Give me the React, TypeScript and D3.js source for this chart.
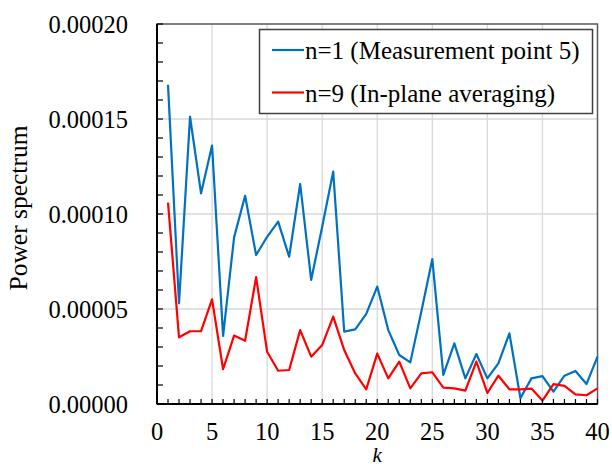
import React from "react";
import * as d3 from "d3";

// Spectrum index k
const kValues: number[] = d3.range(1, 41);

// n=1 (Measurement point 5), power spectrum values
const seriesSingle: number[] = [
  0.000168, 0.000053, 0.0001512, 0.0001109, 0.000136, 0.0000358, 0.0000877, 0.0001096, 0.0000784, 0.000088,
  0.000096, 0.0000775, 0.0001158, 0.0000653, 0.0000933, 0.0001223, 0.0000381, 0.0000393, 0.0000474, 0.0000618,
  0.0000389, 0.0000258, 0.0000219, 0.0000486, 0.0000763, 0.0000153, 0.0000319, 0.0000135, 0.0000263, 0.0000135,
  0.0000214, 0.0000372, 0.000003, 0.0000135, 0.0000147, 0.0000065, 0.0000149, 0.0000174, 0.0000105, 0.0000249,
];

// n=9 (In-plane averaging), power spectrum values
const seriesAveraged: number[] = [
  0.000106, 0.0000351, 0.0000383, 0.0000383, 0.0000551, 0.0000183, 0.000036, 0.0000333, 0.0000668, 0.0000275,
  0.0000175, 0.0000179, 0.0000389, 0.0000249, 0.000031, 0.000046, 0.0000284, 0.0000161, 0.0000077, 0.0000265,
  0.0000135, 0.0000223, 0.0000082, 0.0000161, 0.0000167, 0.0000086, 0.0000082, 0.000007, 0.0000223, 0.0000058,
  0.0000149, 0.0000077, 0.0000077, 0.0000081, 0.0000018, 0.0000105, 0.0000095, 0.0000051, 0.0000046, 0.0000082,
];

const seriesNames: string[] = ["n=1 (Measurement point 5)", "n=9 (In-plane averaging)"];
const seriesColors: string[] = ["#0070C0", "#FF0000"];

const xMajorTicks: number[] = [0, 5, 10, 15, 20, 25, 30, 35, 40];
const yMajorTicks: number[] = [0, 0.00005, 0.0001, 0.00015, 0.0002];

const W = 612;
const H = 464;
const plot = { left: 157, top: 24, right: 597.5, bottom: 404 };
const FONT = '"Liberation Serif", "DejaVu Serif", serif';

export default function App() {
  const x = d3.scaleLinear().domain([0, 40]).range([plot.left, plot.right]);
  const y = d3.scaleLinear().domain([0, 0.0002]).range([plot.bottom, plot.top]);

  const line = d3
    .line<[number, number]>()
    .x((d) => x(d[0]))
    .y((d) => y(d[1]));

  const series = [seriesSingle, seriesAveraged].map((vals) =>
    kValues.map((k, i) => [k, vals[i]] as [number, number])
  );

  const xMinor = d3.range(0, 41, 1);
  const yMinor = d3.range(0, 0.0002 + 1e-9, 0.00001);
  const txt = { fontFamily: FONT };

  return (
    <svg
      width={W}
      height={H}
      style={{ position: "absolute", left: 0, top: 0, background: "#fff", fontFamily: FONT }}
    >
      {/* grid */}
      {xMajorTicks.slice(1, -1).map((t) => (
        <line key={"gx" + t} x1={x(t)} x2={x(t)} y1={plot.top} y2={plot.bottom} stroke="#d9d9d9" strokeWidth={1.3} />
      ))}
      {yMajorTicks.slice(1, -1).map((t) => (
        <line key={"gy" + t} x1={plot.left} x2={plot.right} y1={y(t)} y2={y(t)} stroke="#d9d9d9" strokeWidth={1.3} />
      ))}

      {/* plot frame */}
      <rect
        x={plot.left}
        y={plot.top}
        width={plot.right - plot.left}
        height={plot.bottom - plot.top}
        fill="none"
        stroke="#595959"
        strokeWidth={1.5}
      />

      {/* series */}
      {series.map((pts, i) => (
        <path key={"s" + i} d={line(pts) ?? ""} fill="none" stroke={seriesColors[i]} strokeWidth={2.2} strokeLinejoin="round" />
      ))}

      {/* axes */}
      <line x1={plot.left} x2={plot.left} y1={plot.top} y2={plot.bottom} stroke="#000" strokeWidth={2} />
      <line x1={plot.left} x2={plot.right} y1={plot.bottom} y2={plot.bottom} stroke="#000" strokeWidth={2} />
      {xMinor.map((t) => (
        <line key={"tx" + t} x1={x(t)} x2={x(t)} y1={plot.bottom} y2={plot.bottom - 5} stroke="#000" strokeWidth={1.2} />
      ))}
      {yMinor.map((t, i) => (
        <line key={"ty" + i} x1={plot.left} x2={plot.left + 6} y1={y(t)} y2={y(t)} stroke="#000" strokeWidth={1.2} />
      ))}

      {/* tick labels */}
      {xMajorTicks.map((t) => (
        <text key={"lx" + t} x={x(t)} y={440} textAnchor="middle" fontSize={24.5} fill="#000" style={txt}>
          {t}
        </text>
      ))}
      {yMajorTicks.map((t) => (
        <text key={"ly" + t} x={128} y={y(t) + 8.5} textAnchor="end" fontSize={24.5} fill="#000" style={txt}>
          {t.toFixed(5)}
        </text>
      ))}

      {/* axis titles */}
      <text x={(plot.left + plot.right) / 2} y={462} textAnchor="middle" fontSize={21} fontStyle="italic" style={txt}>
        k
      </text>
      <text
        transform="translate(27, 208) rotate(-90)"
        textAnchor="middle"
        fontSize={25.5}
        style={txt}
      >
        Power spectrum
      </text>

      {/* legend */}
      <rect x={259.5} y={29.5} width={333} height={84} fill="#fff" stroke="#404040" strokeWidth={1.5} />
      {seriesNames.map((name, i) => (
        <g key={"lg" + i}>
          <line x1={272} x2={304} y1={50 + i * 42.5} y2={50 + i * 42.5} stroke={seriesColors[i]} strokeWidth={2.2} />
          <text x={305} y={59 + i * 42.5} fontSize={25} fill="#000" style={txt}>
            {name}
          </text>
        </g>
      ))}
    </svg>
  );
}
